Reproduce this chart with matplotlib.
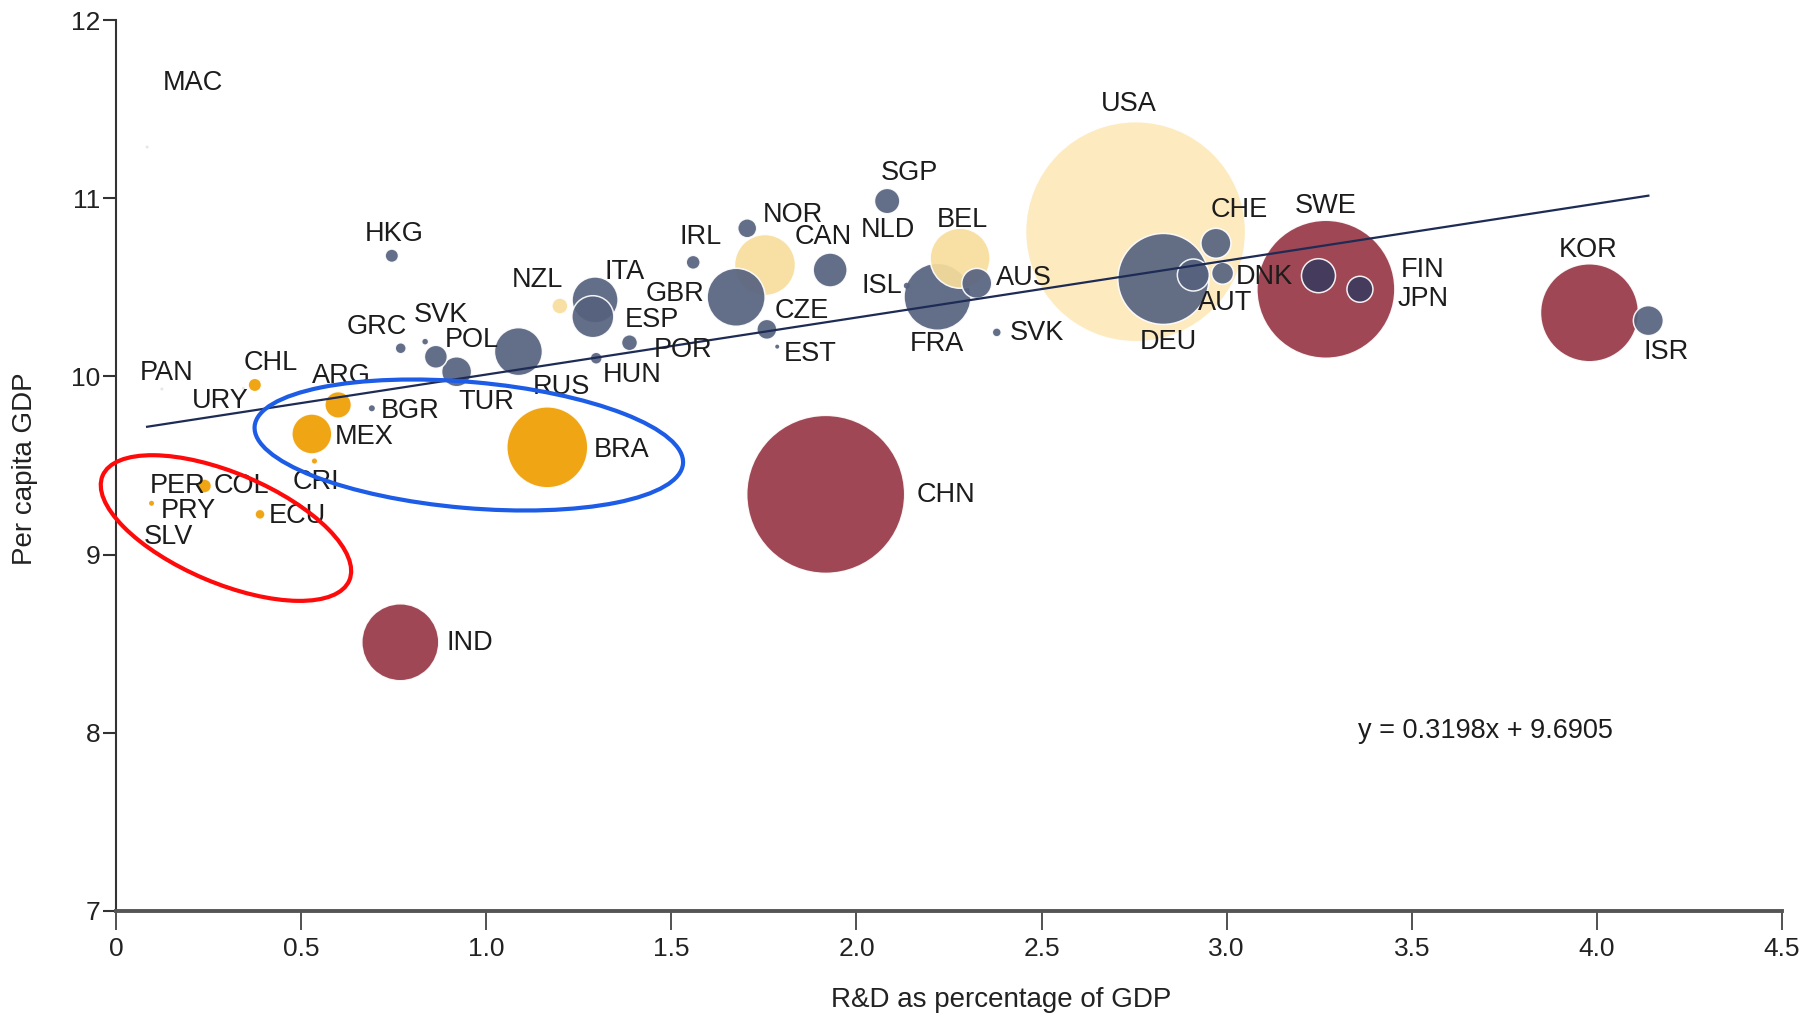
import matplotlib
matplotlib.use('Agg')
import matplotlib.pyplot as plt
import matplotlib.transforms as mtransforms
from matplotlib.patches import Ellipse
import numpy as np

plt.rcParams['font.family'] = ['Liberation Sans', 'DejaVu Sans']

# data
countries = ['USA', 'CHN', 'SWE', 'KOR', 'DEU', 'BRA', 'IND', 'FRA', 'CAN', 'BEL',
             'GBR', 'RUS', 'ITA', 'ESP', 'MEX', 'NLD', 'FIN', 'AUT', 'TUR', 'AUS',
             'CHE', 'ISR', 'ARG', 'JPN', 'SGP', 'POL', 'DNK', 'CZE', 'NOR', 'NZL',
             'POR', 'IRL', 'COL', 'HKG', 'CHL', 'HUN', 'GRC', 'ECU', 'SVK', 'SVK',
             'CRI', 'BGR', 'ISL', 'PRY', 'EST', 'MAC', 'PAN', 'URY', 'PER', 'SLV']
rd_share = [2.754, 1.917, 3.268, 3.980, 2.829, 1.165, 0.768, 2.219, 1.753, 2.280,
            1.675, 1.087, 1.294, 1.288, 0.529, 1.929, 3.248, 2.910, 0.920, 2.325,
            2.971, 4.139, 0.600, 3.360, 2.083, 0.864, 2.989, 1.758, 1.705, 1.199,
            1.387, 1.559, 0.239, 0.745, 0.375, 1.297, 0.769, 0.389, 0.835, 2.379,
            0.536, 0.691, 2.136, 0.096, 1.786, 0.084, 0.124, 0.344, 0.100, 0.086]
gdp_pc = [10.812, 9.338, 10.489, 10.357, 10.547, 9.602, 8.508, 10.447, 10.625, 10.663,
          10.444, 10.139, 10.429, 10.335, 9.677, 10.597, 10.565, 10.569, 10.026, 10.522,
          10.747, 10.313, 9.840, 10.489, 10.984, 10.110, 10.579, 10.264, 10.831, 10.395,
          10.189, 10.640, 9.385, 10.677, 9.952, 10.102, 10.158, 9.226, 10.195, 10.247,
          9.525, 9.821, 10.509, 9.288, 10.167, 11.287, 9.929, 9.933, 9.374, 9.082]
economy_size = [110, 79, 69, 49, 45.5, 40.5, 38.5, 33.5, 30.5, 30,
                29, 24, 23, 21, 20, 17, 17, 16, 15, 15,
                15, 15, 13.3, 13, 12.7, 11.5, 11, 10, 9.5, 8,
                8, 7, 7, 6.7, 6.7, 6, 5.5, 5, 3.5, 4.5,
                3.3, 3, 3, 2.5, 2, 1.5, 1.5, 1.5, 1.2, 1.2]
group = ['pale', 'red', 'red', 'red', 'blue', 'orange', 'red', 'blue', 'yellow', 'yellow',
         'blue', 'blue', 'blue', 'blue', 'orange', 'blue', 'navy', 'blue', 'blue', 'blue',
         'blue', 'blue', 'orange', 'navy', 'blue', 'blue', 'blue', 'blue', 'blue', 'yellow',
         'blue', 'blue', 'orange', 'blue', 'orange', 'blue', 'blue', 'orange', 'blue', 'blue',
         'orange', 'blue', 'blue', 'orange', 'blue', 'faint', 'faint', 'faint', 'faint', 'faint']

slope = 0.3198
intercept = 9.6905

x_ticks = [0, 0.5, 1.0, 1.5, 2.0, 2.5, 3.0, 3.5, 4.0, 4.5]
x_tick_labels = ['0', '0.5', '1.0', '1.5', '2.0', '2.5', '3.0', '3.5', '4.0', '4.5']
y_ticks = [7, 8, 9, 10, 11, 12]

# label offsets from each bubble, in pixels (right, up)
label_offsets = [(-7, 128), (120, -1), (0, 83), (-1, 63), (5, -63), (74, -3), (69, -1),
                 (-1, -47), (58, 28), (2, 38), (-61, 3), (43, -35), (30, 28), (59, -3),
                 (52, -3), (58, 40), (104, 6), (32, -28), (30, -30), (47, 5), (23, 33),
                 (18, -31), (3, 29), (63, -10), (22, 28), (36, 17), (42, -4), (35, 18),
                 (46, 13), (-22, 26), (54, -7), (7, 25), (37, 0), (2, 22), (16, 22),
                 (36, -17), (-24, 21), (37, -2), (16, 27), (40, -1), (1, -21), (38, -3),
                 (-25, 0), (37, -8), (33, -7), (46, 64), (5, 16), (-23, -13), (25, 2),
                 (21, 3)]

palette = {'blue': '#56627f', 'navy': '#3c3a5e', 'yellow': '#f8de9c', 'pale': '#fde9ba',
           'orange': '#ef9f00', 'red': '#973745', 'faint': '#e4e4e4'}

W, H = 1804, 1016
fig = plt.figure(figsize=(W / 100, H / 100), dpi=100)
ax = fig.add_axes([116 / W, 105 / H, 1666 / W, 891 / H])
ax.set_xlim(0, 4.5)
ax.set_ylim(7, 12)

x = np.array(rd_share)
y = np.array(gdp_pc)
r = np.array(economy_size)
order = np.argsort(-r, kind='stable')
cols = [palette[group[i]] for i in order]
lw = [1.1 if r[i] > 3 else 0 for i in order]
ax.scatter(x[order], y[order], s=(1.44 * r[order]) ** 2, c=cols, alpha=0.92,
           edgecolors='white', linewidths=lw, zorder=2)

# trend line
xl = np.array([x.min(), x.max()])
ax.plot(xl, slope * xl + intercept, color='#1e2b55', lw=1.6, zorder=3)

for name, xi, yi, off in zip(countries, x, y, label_offsets):
    ax.annotate(name, (xi, yi), xytext=off, textcoords='offset pixels',
                ha='center', va='center', fontsize=19.5, color='#1c1c1c', zorder=4)

ax.text(0.822, 0.2025, 'y = {}x + {}'.format(slope, intercept), transform=ax.transAxes,
        ha='center', va='center', fontsize=19.5, color='#1c1c1c')

# highlight ellipses (size in pixels)
for (cx, cy), w, h, ang, col in [((0.297, 9.149), 268, 110, -23, '#ff0a0a'),
                                 ((0.953, 9.615), 430, 126, -5, '#1d5ce6')]:
    c = ax.transData.transform((cx, cy))
    e = Ellipse(c, w, h, angle=ang, fill=False, edgecolor=col, lw=3.0,
                transform=mtransforms.IdentityTransform(), clip_on=False, zorder=5)
    ax.add_patch(e)

for s in ['top', 'right']:
    ax.spines[s].set_visible(False)
ax.spines['left'].set_color('#333333')
ax.spines['left'].set_linewidth(1.5)
ax.spines['bottom'].set_color('#555555')
ax.spines['bottom'].set_linewidth(2.8)

ax.set_xticks(x_ticks)
ax.set_xticklabels(x_tick_labels)
ax.set_yticks(y_ticks)
ax.tick_params(axis='x', direction='out', length=13.5, width=1.2, pad=5,
               labelsize=19, colors='#333333', labelcolor='#222222')
ax.tick_params(axis='y', direction='out', length=9.5, width=1.5, pad=1.5,
               labelsize=19, colors='#333333', labelcolor='#222222')

fig.text(1001 / W, 1 - 1000 / H, 'R&D as percentage of GDP', ha='center', va='center',
         fontsize=20, color='#222222')
fig.text(25 / W, 1 - 469 / H, 'Per capita GDP', ha='center', va='center',
         rotation=90, fontsize=20, color='#222222')

fig.savefig('out.png', dpi=100)
